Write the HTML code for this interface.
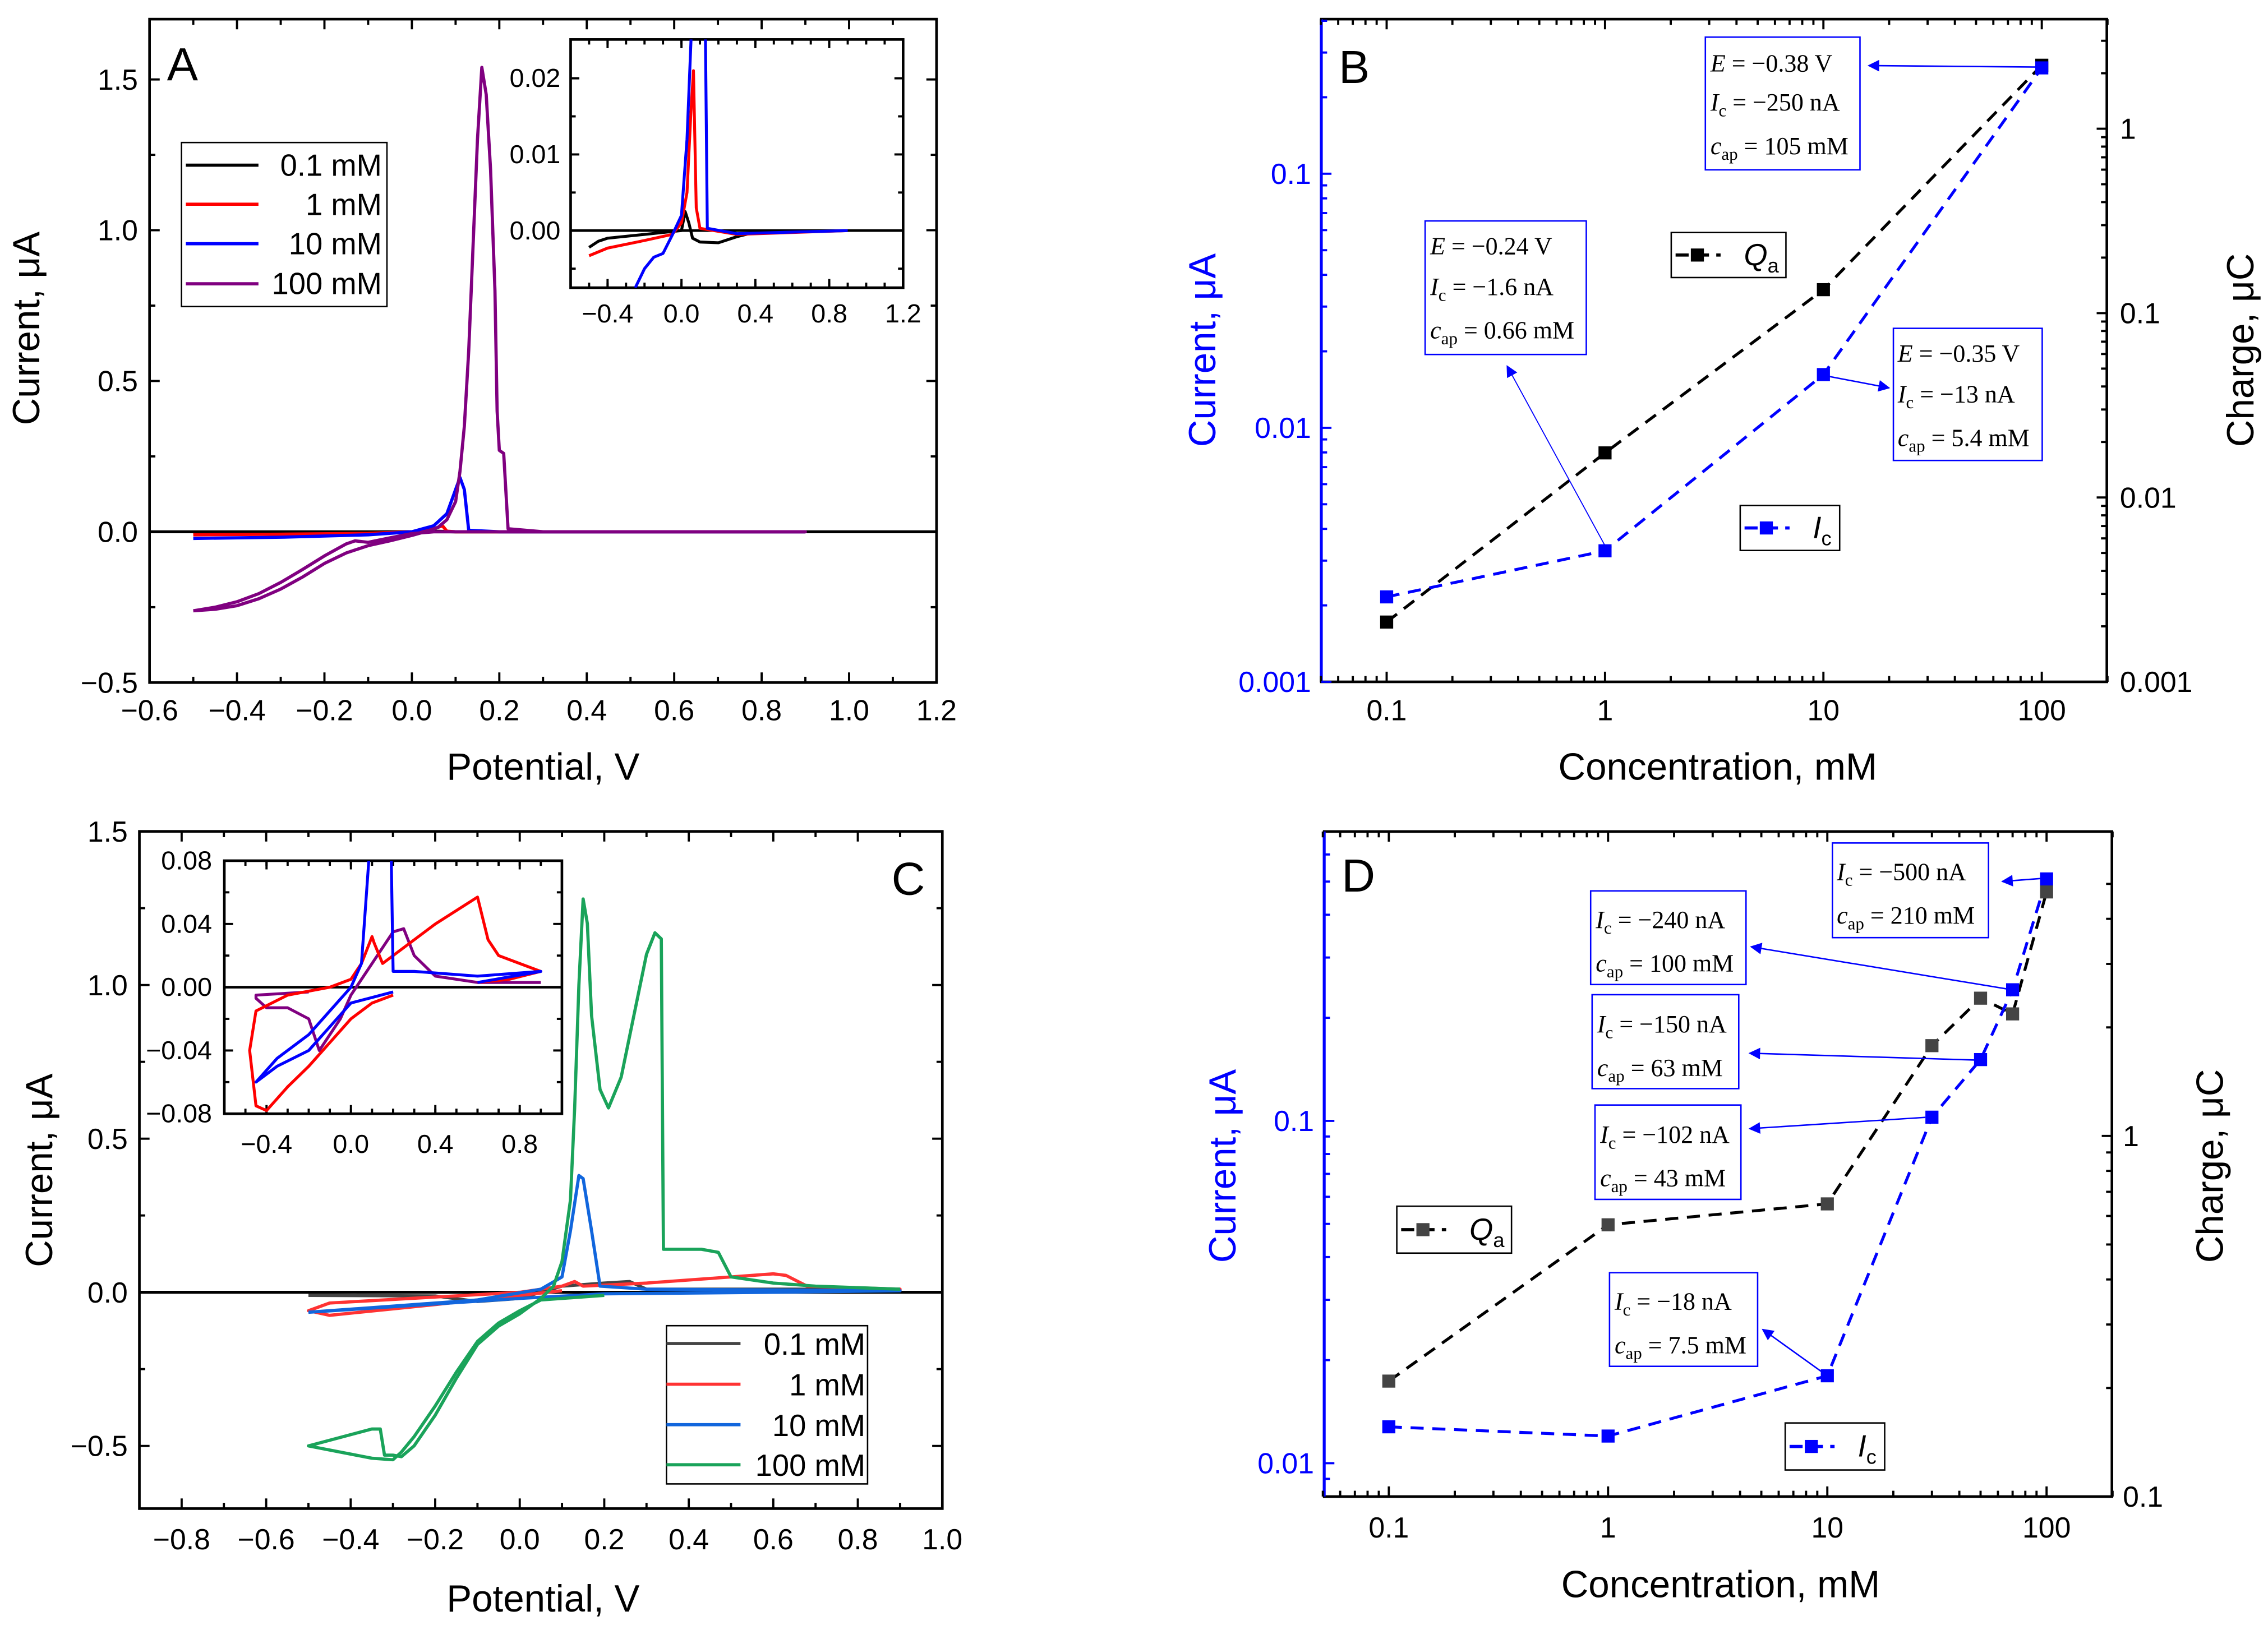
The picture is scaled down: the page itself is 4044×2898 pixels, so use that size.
<!DOCTYPE html>
<html><head><meta charset="utf-8"><style>
html,body{margin:0;padding:0;background:#fff;}
svg{display:block;}
.t{font-family:"Liberation Sans",sans-serif;}
.s{font-family:"Liberation Serif",serif;}
</style></head><body>
<svg id="fig" xmlns="http://www.w3.org/2000/svg" width="4044" height="2898" viewBox="0 0 1562 1119">
<defs>
<marker id="ah" viewBox="0 0 10 10" refX="9" refY="5" markerWidth="10" markerHeight="8" markerUnits="userSpaceOnUse" orient="auto"><path d="M0,0 L10,5 L0,10 z" fill="#0000ff"/></marker>
<clipPath id="cA"><rect x="103" y="13" width="542" height="457"/></clipPath>
<clipPath id="cAi"><rect x="393" y="27" width="229" height="171"/></clipPath>
<clipPath id="cC"><rect x="96" y="572.5" width="553" height="466.5"/></clipPath>
<clipPath id="cCi"><rect x="154.5" y="592.7" width="232.5" height="174.3"/></clipPath>
</defs>
<rect x="0" y="0" width="1562" height="1119" fill="#fff"/>
<g id="gA"></g>
<g id="gB"></g>
<g id="gC"></g>
<g id="gD"></g>
<g id="static" class="t">
<text x="115" y="55" font-size="32">A</text>
<text x="374" y="537" font-size="26" text-anchor="middle">Potential, V</text>
<text transform="translate(27,226) rotate(-90)" font-size="26" text-anchor="middle">Current, μA</text>
<rect x="125" y="98" width="141.5" height="113" fill="#fff" stroke="#000" stroke-width="1"/>
<line x1="128" y1="113.6" x2="178" y2="113.6" stroke="#000" stroke-width="2.2"/>
<line x1="128" y1="140.5" x2="178" y2="140.5" stroke="#ff0000" stroke-width="2.2"/>
<line x1="128" y1="167.7" x2="178" y2="167.7" stroke="#0000ff" stroke-width="2.2"/>
<line x1="128" y1="195.3" x2="178" y2="195.3" stroke="#800080" stroke-width="2.2"/>
<text x="263" y="121" font-size="21" text-anchor="end">0.1 mM</text>
<text x="263" y="148" font-size="21" text-anchor="end">1 mM</text>
<text x="263" y="175" font-size="21" text-anchor="end">10 mM</text>
<text x="263" y="202.5" font-size="21" text-anchor="end">100 mM</text>
<text x="614" y="616" font-size="32">C</text>
<text x="374" y="1110" font-size="26" text-anchor="middle">Potential, V</text>
<text transform="translate(36,806) rotate(-90)" font-size="26" text-anchor="middle">Current, μA</text>
<rect x="459" y="913" width="138.5" height="109" fill="#fff" stroke="#000" stroke-width="1"/>
<line x1="459" y1="925.3" x2="510" y2="925.3" stroke="#444" stroke-width="2.2"/>
<line x1="459" y1="953.3" x2="510" y2="953.3" stroke="#ff3333" stroke-width="2.2"/>
<line x1="459" y1="981.2" x2="510" y2="981.2" stroke="#1166dd" stroke-width="2.2"/>
<line x1="459" y1="1008.8" x2="510" y2="1008.8" stroke="#1aa35a" stroke-width="2.2"/>
<text x="596" y="933" font-size="21" text-anchor="end">0.1 mM</text>
<text x="596" y="961" font-size="21" text-anchor="end">1 mM</text>
<text x="596" y="989" font-size="21" text-anchor="end">10 mM</text>
<text x="596" y="1016.5" font-size="21" text-anchor="end">100 mM</text>
<text x="922" y="57" font-size="32">B</text>
<text x="1183" y="537" font-size="26" text-anchor="middle">Concentration, mM</text>
<text transform="translate(837,241) rotate(-90)" font-size="26" text-anchor="middle" fill="#0000ff">Current, μA</text>
<text transform="translate(1552,241) rotate(-90)" font-size="26" text-anchor="middle">Charge, μC</text>
<text x="924" y="614" font-size="32">D</text>
<text x="1185" y="1100" font-size="26" text-anchor="middle">Concentration, mM</text>
<text transform="translate(851,803) rotate(-90)" font-size="26" text-anchor="middle" fill="#0000ff">Current, μA</text>
<text transform="translate(1531,803) rotate(-90)" font-size="26" text-anchor="middle">Charge, μC</text>
</g>
<g id="annot" class="s" font-size="17">
<rect x="1174.5" y="25.4" width="106.5" height="91.4" fill="#fff" stroke="#0000ff" stroke-width="1"/>
<text x="1178" y="49"><tspan font-style="italic">E</tspan> = −0.38 V</text>
<text x="1178" y="76"><tspan font-style="italic">I</tspan><tspan font-size="12" dy="4">c</tspan><tspan dy="-4"> = −250 nA</tspan></text>
<text x="1178" y="106"><tspan font-style="italic">c</tspan><tspan font-size="12" dy="4">ap</tspan><tspan dy="-4"> = 105 mM</tspan></text>
<rect x="981.5" y="152" width="111" height="92" fill="#fff" stroke="#0000ff" stroke-width="1"/>
<text x="985" y="175"><tspan font-style="italic">E</tspan> = −0.24 V</text>
<text x="985" y="203"><tspan font-style="italic">I</tspan><tspan font-size="12" dy="4">c</tspan><tspan dy="-4"> = −1.6 nA</tspan></text>
<text x="985" y="233"><tspan font-style="italic">c</tspan><tspan font-size="12" dy="4">ap</tspan><tspan dy="-4"> = 0.66 mM</tspan></text>
<rect x="1304" y="226" width="102.5" height="91" fill="#fff" stroke="#0000ff" stroke-width="1"/>
<text x="1307" y="249"><tspan font-style="italic">E</tspan> = −0.35 V</text>
<text x="1307" y="277"><tspan font-style="italic">I</tspan><tspan font-size="12" dy="4">c</tspan><tspan dy="-4"> = −13 nA</tspan></text>
<text x="1307" y="307"><tspan font-style="italic">c</tspan><tspan font-size="12" dy="4">ap</tspan><tspan dy="-4"> = 5.4 mM</tspan></text>
<line x1="1403" y1="46" x2="1287" y2="45" stroke="#0000ff" stroke-width="1" marker-end="url(#ah)"/>
<line x1="1105" y1="375" x2="1038" y2="252" stroke="#0000ff" stroke-width="0.7" marker-end="url(#ah)"/>
<line x1="1259" y1="259" x2="1301" y2="267" stroke="#0000ff" stroke-width="1" marker-end="url(#ah)"/>
<rect x="1262" y="580.5" width="107.5" height="65.2" fill="#fff" stroke="#0000ff" stroke-width="1"/>
<text x="1265" y="606"><tspan font-style="italic">I</tspan><tspan font-size="12" dy="4">c</tspan><tspan dy="-4"> = −500 nA</tspan></text>
<text x="1265" y="636"><tspan font-style="italic">c</tspan><tspan font-size="12" dy="4">ap</tspan><tspan dy="-4"> = 210 mM</tspan></text>
<rect x="1095.5" y="613.5" width="107" height="64.5" fill="#fff" stroke="#0000ff" stroke-width="1"/>
<text x="1099" y="639"><tspan font-style="italic">I</tspan><tspan font-size="12" dy="4">c</tspan><tspan dy="-4"> = −240 nA</tspan></text>
<text x="1099" y="669"><tspan font-style="italic">c</tspan><tspan font-size="12" dy="4">ap</tspan><tspan dy="-4"> = 100 mM</tspan></text>
<rect x="1096.5" y="685" width="101" height="64.7" fill="#fff" stroke="#0000ff" stroke-width="1"/>
<text x="1100" y="711"><tspan font-style="italic">I</tspan><tspan font-size="12" dy="4">c</tspan><tspan dy="-4"> = −150 nA</tspan></text>
<text x="1100" y="741"><tspan font-style="italic">c</tspan><tspan font-size="12" dy="4">ap</tspan><tspan dy="-4"> = 63 mM</tspan></text>
<rect x="1098.5" y="761" width="100.5" height="65" fill="#fff" stroke="#0000ff" stroke-width="1"/>
<text x="1102" y="787"><tspan font-style="italic">I</tspan><tspan font-size="12" dy="4">c</tspan><tspan dy="-4"> = −102 nA</tspan></text>
<text x="1102" y="817"><tspan font-style="italic">c</tspan><tspan font-size="12" dy="4">ap</tspan><tspan dy="-4"> = 43 mM</tspan></text>
<rect x="1108.5" y="876.5" width="102" height="64.5" fill="#fff" stroke="#0000ff" stroke-width="1"/>
<text x="1112" y="902"><tspan font-style="italic">I</tspan><tspan font-size="12" dy="4">c</tspan><tspan dy="-4"> = −18 nA</tspan></text>
<text x="1112" y="932"><tspan font-style="italic">c</tspan><tspan font-size="12" dy="4">ap</tspan><tspan dy="-4"> = 7.5 mM</tspan></text>
<line x1="1405" y1="605" x2="1379" y2="607" stroke="#0000ff" stroke-width="1" marker-end="url(#ah)"/>
<line x1="1382" y1="681" x2="1206" y2="652" stroke="#0000ff" stroke-width="1" marker-end="url(#ah)"/>
<line x1="1360" y1="730" x2="1205" y2="725.3" stroke="#0000ff" stroke-width="1" marker-end="url(#ah)"/>
<line x1="1326" y1="769.5" x2="1205" y2="777.3" stroke="#0000ff" stroke-width="1" marker-end="url(#ah)"/>
<line x1="1255" y1="945" x2="1214" y2="915.6" stroke="#0000ff" stroke-width="1" marker-end="url(#ah)"/>
</g>
<script>
const aV01=[-0.5,-0.3,-0.1,0.0,0.05,0.1,0.3,0.9];
const aI01=[-0.003,-0.002,-0.001,0.0,0.002,0.0,0.0,0.0];
const aV1=[-0.5,-0.3,-0.1,0.0,0.05,0.07,0.08,0.1,0.3,0.9];
const aI1=[-0.01,-0.008,-0.005,0.0,0.01,0.02,0.002,0.0,0.0,0.0];
const aV10=[-0.5,-0.3,-0.1,0.0,0.05,0.08,0.1,0.11,0.12,0.13,0.2,0.9];
const aI10=[-0.022,-0.018,-0.01,0.0,0.02,0.06,0.14,0.18,0.14,0.005,0.0,0.0];
const aV100=[-0.5,-0.45,-0.4,-0.35,-0.3,-0.25,-0.2,-0.15,-0.1,-0.05,0.0,0.03,0.06,0.08,0.1,0.11,0.12,0.13,0.14,0.15,0.16,0.17,0.18,0.19,0.195,0.2,0.21,0.22,0.3,0.9,0.3,0.05,0.0,-0.05,-0.1,-0.13,-0.15,-0.2,-0.25,-0.3,-0.35,-0.4,-0.45,-0.5];
const aI100=[-0.262,-0.257,-0.245,-0.222,-0.19,-0.15,-0.105,-0.07,-0.046,-0.03,-0.012,0.0,0.015,0.04,0.1,0.2,0.35,0.6,0.95,1.3,1.54,1.45,1.2,0.8,0.4,0.27,0.26,0.01,0.0,0.0,0.0,0.0,-0.006,-0.02,-0.035,-0.03,-0.04,-0.08,-0.125,-0.168,-0.205,-0.232,-0.25,-0.262];
const aiV01=[-0.5,-0.45,-0.4,-0.2,0.0,0.02,0.04,0.06,0.1,0.2,0.3,0.4,0.9];
const aiI01=[-0.0022,-0.0014,-0.001,-0.0005,0.0,0.0025,0.001,-0.001,-0.0015,-0.0016,-0.0008,-0.0002,0.0];
const aiV1=[-0.5,-0.4,-0.2,-0.05,0.0,0.03,0.05,0.065,0.08,0.1,0.3,0.9];
const aiI1=[-0.0033,-0.0023,-0.0013,-0.0005,0.001,0.005,0.015,0.021,0.003,0.0003,-0.0005,0.0];
const aiV10=[-0.25,-0.2,-0.15,-0.1,-0.05,0.0,0.03,0.05,0.06,0.12,0.13,0.14,0.3,0.9];
const aiI10=[-0.0075,-0.005,-0.0035,-0.003,-0.0006,0.002,0.012,0.024,0.03,0.03,0.025,0.0003,-0.0004,0.0];
const cV01=[-0.5,-0.2,-0.1,0.0,0.1,0.2,0.26,0.3,0.9];
const cI01=[-0.01,-0.012,-0.03,-0.02,0.02,0.03,0.035,0.01,0.01];
const cV1=[0.1,0.0,-0.2,-0.45,-0.5,-0.45,0.0,0.1,0.13,0.15,0.3,0.6,0.63,0.68,0.9,0.6];
const cI1=[0.005,-0.01,-0.04,-0.075,-0.06,-0.035,0.0,0.02,0.035,0.02,0.03,0.06,0.055,0.02,0.01,0.003];
const cV10=[-0.5,-0.3,-0.1,0.05,0.1,0.12,0.14,0.15,0.17,0.19,0.3,0.9,0.6,0.2,0.0,-0.5];
const cI10=[-0.065,-0.045,-0.025,0.01,0.05,0.2,0.38,0.37,0.2,0.02,0.01,0.005,0.0,-0.005,-0.02,-0.065];
const cV100=[0.2,0.05,0.0,-0.05,-0.1,-0.15,-0.2,-0.25,-0.28,-0.3,-0.35,-0.5,-0.35,-0.33,-0.32,-0.3,-0.28,-0.25,-0.2,-0.15,-0.1,-0.05,0.0,0.05,0.08,0.1,0.12,0.13,0.14,0.15,0.16,0.17,0.19,0.21,0.24,0.27,0.3,0.32,0.335,0.34,0.43,0.47,0.5,0.6,0.7,0.9];
const cI100=[-0.01,-0.025,-0.06,-0.1,-0.16,-0.26,-0.37,-0.47,-0.52,-0.545,-0.54,-0.5,-0.445,-0.445,-0.53,-0.53,-0.535,-0.5,-0.4,-0.28,-0.17,-0.11,-0.07,-0.02,0.02,0.1,0.3,0.6,1.0,1.28,1.2,0.9,0.66,0.6,0.7,0.9,1.1,1.17,1.15,0.14,0.14,0.13,0.05,0.03,0.02,0.01];
const ciV1=[0.2,0.1,0.0,-0.1,-0.2,-0.3,-0.4,-0.45,-0.48,-0.45,-0.3,-0.1,0.0,0.05,0.1,0.11,0.15,0.2,0.4,0.6,0.65,0.7,0.8,0.9,0.75,0.6];
const ciI1=[-0.005,-0.01,-0.02,-0.035,-0.05,-0.063,-0.078,-0.075,-0.04,-0.015,-0.005,0.0,0.005,0.015,0.032,0.028,0.015,0.02,0.04,0.057,0.03,0.02,0.015,0.01,0.005,0.003];
const ciV10=[0.2,0.0,-0.1,-0.2,-0.35,-0.45,-0.35,-0.2,-0.1,0.0,0.05,0.09,0.19,0.2,0.3,0.6,0.9,0.6];
const ciI10=[-0.003,-0.01,-0.025,-0.04,-0.05,-0.06,-0.045,-0.03,-0.015,0.0,0.015,0.09,0.09,0.01,0.01,0.007,0.01,0.003];
const ciV100=[-0.2,-0.45,-0.45,-0.4,-0.3,-0.2,-0.15,-0.1,-0.05,0.0,0.1,0.2,0.25,0.3,0.4,0.6,0.9];
const ciI100=[-0.003,-0.005,-0.007,-0.013,-0.013,-0.02,-0.04,-0.03,-0.02,-0.005,0.015,0.035,0.037,0.02,0.007,0.003,0.003];
const bConc=[0.1,1,10,100];
const bQa=[0.00211,0.01745,0.134,2.21];
const bIc=[0.00216,0.00328,0.0162,0.261];
const dConc=[0.1,1,10,30,50,70,100];
const dQa=[0.209,0.567,0.648,1.78,2.41,2.18,4.75];
const dIc=[0.01277,0.0120,0.0180,0.1025,0.151,0.2415,0.509];
const aXTicks=[-0.6,-0.4,-0.2,0.0,0.2,0.4,0.6,0.8,1.0,1.2];
const aYTicks=[-0.5,0.0,0.5,1.0,1.5];
const aiXTicks=[-0.4,0.0,0.4,0.8,1.2];
const aiYTicks=[0.0,0.01,0.02];
const cXTicks=[-0.8,-0.6,-0.4,-0.2,0.0,0.2,0.4,0.6,0.8,1.0];
const cYTicks=[-0.5,0.0,0.5,1.0,1.5];
const ciXTicks=[-0.4,0.0,0.4,0.8];
const ciYTicks=[-0.08,-0.04,0.0,0.04,0.08];
const logXTicks=[0.1,1,10,100];
const logXLabels=['0.1','1','10','100'];
const bLeftTicks=[0.001,0.01,0.1];
const bLeftLabels=['0.001','0.01','0.1'];
const bRightTicks=[0.001,0.01,0.1,1];
const bRightLabels=['0.001','0.01','0.1','1'];
const dLeftTicks=[0.01,0.1];
const dLeftLabels=['0.01','0.1'];
const dRightTicks=[0.1,1];
const dRightLabels=['0.1','1'];

const NS='http://www.w3.org/2000/svg';
function mk(tag,parent,name){const e=document.createElementNS(NS,tag);


parent.appendChild(e);return e;}
function lin(d0,d1,p0,p1){return v=>p0+(v-d0)*(p1-p0)/(d1-d0);}
function lg(d0,p0,ppd){return v=>p0+(Math.log10(v)-Math.log10(d0))*ppd;}
function fmt(v,d){let s=v.toFixed(d);if(v<0)s='\u2212'+s.slice(1);return s;}
function ln(p,x1,y1,x2,y2,c,w,name){const e=mk('line',p,name);e.setAttribute('x1',x1);e.setAttribute('y1',y1);e.setAttribute('x2',x2);e.setAttribute('y2',y2);e.setAttribute('stroke',c);e.setAttribute('stroke-width',w);return e;}
function tx(p,x,y,s,size,anchor,c,name){const e=mk('text',p,name);e.setAttribute('x',x);e.setAttribute('y',y);e.setAttribute('font-size',size);e.setAttribute('text-anchor',anchor);e.setAttribute('fill',c);e.setAttribute('class','t');e.textContent=s;return e;}
function curve(p,xs,ys,fx,fy,c,w,clip,name,dash){const e=mk('polyline',p,name);e.setAttribute('points',xs.map((v,i)=>fx(v).toFixed(2)+','+fy(ys[i]).toFixed(2)).join(' '));e.setAttribute('fill','none');e.setAttribute('stroke',c);e.setAttribute('stroke-width',w);e.setAttribute('stroke-linejoin','round');if(clip)e.setAttribute('clip-path','url(#'+clip+')');if(dash)e.setAttribute('stroke-dasharray',dash);return e;}
function squares(p,xs,ys,fx,fy,c,sz,name){xs.forEach((v,i)=>{const r=mk('rect',p,name+'-'+i);r.setAttribute('x',fx(v)-sz/2);r.setAttribute('y',fy(ys[i])-sz/2);r.setAttribute('width',sz);r.setAttribute('height',sz);r.setAttribute('fill',c);});}
function frame(p,x0,y0,x1,y1,leftColor,name){const r=mk('rect',p,name);r.setAttribute('x',x0);r.setAttribute('y',y0);r.setAttribute('width',x1-x0);r.setAttribute('height',y1-y0);r.setAttribute('fill','none');r.setAttribute('stroke','#000');r.setAttribute('stroke-width',1.8);if(leftColor)ln(p,x0,y0,x0,y1,leftColor,2,name+'-left-spine');}
function xt(p,fx,vals,y0,y1,len,name){vals.forEach(v=>{const x=fx(v);ln(p,x,y1,x,y1-len,'#000',1.5,name);ln(p,x,y0,x,y0+len,'#000',1.5,name);});}
function yt(p,fy,vals,x0,x1,len,cl,name){vals.forEach(v=>{const y=fy(v);ln(p,x0,y,x0+len,y,cl,1.5,name);ln(p,x1,y,x1-len,y,'#000',1.5,name);});}
function range(a,b,s){const r=[];for(let v=a;v<=b+1e-9;v+=s)r.push(+v.toFixed(6));return r;}
function logMinor(lo,hi){const r=[];for(let e=-4;e<=3;e++)for(let m=2;m<=9;m++){const v=m*Math.pow(10,e);if(v>=lo&&v<=hi)r.push(v);}return r;}

(function(){const g=document.getElementById('gA');
const fx=lin(-0.6,1.2,103,645),fy=lin(-0.5,1.7,470,13);
frame(g,103,13,645,470,null,'a-frame');
xt(g,fx,range(-0.6,1.2,0.2),13,470,7,'a-x-major-tick');
xt(g,fx,range(-0.5,1.1,0.2),13,470,4,'a-x-minor-tick');
yt(g,fy,range(-0.5,1.5,0.5),103,645,7,'#000','a-y-major-tick');
yt(g,fy,range(-0.25,1.5,0.5),103,645,4,'#000','a-y-minor-tick');
aXTicks.forEach(v=>tx(g,fx(v),496,fmt(v,1),20,'middle','#000','a-x-label'));
aYTicks.forEach(v=>tx(g,95,fy(v)+7,fmt(v,1),20,'end','#000','a-y-label'));
ln(g,103,fy(0),645,fy(0),'#000',2,'a-zero-line');
curve(g,aV01,aI01,fx,fy,'#000',2.2,'cA','a-curve-0.1mM');
curve(g,aV1,aI1,fx,fy,'#ff0000',2.2,'cA','a-curve-1mM');
curve(g,aV10,aI10,fx,fy,'#0000ff',2.2,'cA','a-curve-10mM');
curve(g,aV100,aI100,fx,fy,'#800080',2.2,'cA','a-curve-100mM');
const ix=lin(-0.6,1.2,393,622),iy=lin(-0.0075,0.0251,198,27);
const bg=mk('rect',g,'a-inset-bg');bg.setAttribute('x',393);bg.setAttribute('y',27);bg.setAttribute('width',229);bg.setAttribute('height',171);bg.setAttribute('fill','#fff');
frame(g,393,27,622,198,null,'a-inset-frame');
xt(g,ix,range(-0.4,1.2,0.4),27,198,6,'a-inset-x-major-tick');
xt(g,ix,range(-0.5,1.1,0.1),27,198,3.5,'a-inset-x-minor-tick');
yt(g,iy,range(0,0.02,0.01),393,622,6,'#000','a-inset-y-major-tick');
yt(g,iy,[-0.005,0.005,0.015],393,622,3.5,'#000','a-inset-y-minor-tick');
aiXTicks.forEach(v=>tx(g,ix(v),222,fmt(v,1),18,'middle','#000','a-inset-x-label'));
aiYTicks.forEach(v=>tx(g,386,iy(v)+6,fmt(v,2),18,'end','#000','a-inset-y-label'));
ln(g,393,iy(0),622,iy(0),'#000',1.8,'a-inset-zero-line');
curve(g,aiV01,aiI01,ix,iy,'#000',2,'cAi','a-inset-curve-0.1mM');
curve(g,aiV1,aiI1,ix,iy,'#ff0000',2,'cAi','a-inset-curve-1mM');
curve(g,aiV10,aiI10,ix,iy,'#0000ff',2,'cAi','a-inset-curve-10mM');
})();

(function(){const g=document.getElementById('gC');
const fx=lin(-0.9,1.0,96,649),fy=lin(-0.704,1.5,1039,572.5);
frame(g,96,572.5,649,1039,null,'c-frame');
xt(g,fx,range(-0.8,1.0,0.2),572.5,1039,7,'c-x-major-tick');
xt(g,fx,range(-0.9,0.9,0.2),572.5,1039,4,'c-x-minor-tick');
yt(g,fy,range(-0.5,1.5,0.5),96,649,7,'#000','c-y-major-tick');
yt(g,fy,range(-0.25,1.25,0.5),96,649,4,'#000','c-y-minor-tick');
cXTicks.forEach(v=>tx(g,fx(v),1067,fmt(v,1),20,'middle','#000','c-x-label'));
cYTicks.forEach(v=>tx(g,88,fy(v)+7,fmt(v,1),20,'end','#000','c-y-label'));
ln(g,96,fy(0),649,fy(0),'#000',2,'c-zero-line');
curve(g,cV01,cI01,fx,fy,'#444',2.2,'cC','c-curve-0.1mM');
curve(g,cV1,cI1,fx,fy,'#ff3333',2.2,'cC','c-curve-1mM');
curve(g,cV10,cI10,fx,fy,'#1166dd',2.2,'cC','c-curve-10mM');
curve(g,cV100,cI100,fx,fy,'#1aa35a',2.2,'cC','c-curve-100mM');
const ix=lin(-0.6,1.0,154.5,387),iy=lin(-0.08,0.08,767,592.7);
const bg=mk('rect',g,'c-inset-bg');bg.setAttribute('x',154.5);bg.setAttribute('y',592.7);bg.setAttribute('width',232.5);bg.setAttribute('height',174.3);bg.setAttribute('fill','#fff');
frame(g,154.5,592.7,387,767,null,'c-inset-frame');
xt(g,ix,range(-0.4,0.8,0.4),592.7,767,6,'c-inset-x-major-tick');
xt(g,ix,range(-0.5,0.9,0.1),592.7,767,3.5,'c-inset-x-minor-tick');
yt(g,iy,range(-0.08,0.08,0.04),154.5,387,6,'#000','c-inset-y-major-tick');
yt(g,iy,[-0.06,-0.02,0.02,0.06],154.5,387,3.5,'#000','c-inset-y-minor-tick');
ciXTicks.forEach(v=>tx(g,ix(v),794,fmt(v,1),18,'middle','#000','c-inset-x-label'));
ciYTicks.forEach(v=>tx(g,146,iy(v)+6,fmt(v,2),18,'end','#000','c-inset-y-label'));
ln(g,154.5,iy(0),387,iy(0),'#000',1.8,'c-inset-zero-line');
curve(g,ciV100,ciI100,ix,iy,'#800080',2,'cCi','c-inset-curve-100mM');
curve(g,ciV1,ciI1,ix,iy,'#ff0000',2,'cCi','c-inset-curve-1mM');
curve(g,ciV10,ciI10,ix,iy,'#0000ff',2,'cCi','c-inset-curve-10mM');
})();

function logPanel(g,pfx,X0,Y0,X1,Y1,fx,fl,fr,xlo,xhi,llo,lhi,rlo,rhi,lT,lL,rT,rL,labY,lX,rX,conc,qa,ic,qc){
frame(g,X0,Y0,X1,Y1,'#0000ff',pfx+'-frame');
xt(g,fx,logXTicks,Y0,Y1,7,pfx+'-x-major-tick');
xt(g,fx,logMinor(xlo,xhi),Y0,Y1,4,pfx+'-x-minor-tick');
lT.forEach(v=>{const y=fl(v);ln(g,X0,y,X0+7,y,'#0000ff',1.5,pfx+'-left-major-tick');});
logMinor(llo,lhi).forEach(v=>{const y=fl(v);ln(g,X0,y,X0+4,y,'#0000ff',1.5,pfx+'-left-minor-tick');});
rT.forEach(v=>{const y=fr(v);ln(g,X1,y,X1-7,y,'#000',1.5,pfx+'-right-major-tick');});
logMinor(rlo,rhi).forEach(v=>{const y=fr(v);ln(g,X1,y,X1-4,y,'#000',1.5,pfx+'-right-minor-tick');});
logXTicks.forEach((v,i)=>tx(g,fx(v),labY,logXLabels[i],20,'middle','#000',pfx+'-x-label'));
lT.forEach((v,i)=>tx(g,lX,fl(v)+7,lL[i],20,'end','#0000ff',pfx+'-left-label'));
rT.forEach((v,i)=>tx(g,rX,fr(v)+7,rL[i],20,'start','#000',pfx+'-right-label'));
curve(g,conc,qa,fx,fr,'#000',2,null,pfx+'-qa-line','9 6');
curve(g,conc,ic,fx,fl,'#0000ff',2,null,pfx+'-ic-line','9 6');
squares(g,conc,qa,fx,fr,qc,9,pfx+'-qa-point');
squares(g,conc,ic,fx,fl,'#0000ff',9,pfx+'-ic-point');
}
(function(){const g=document.getElementById('gB');
const fx=lg(0.1,955,150.4),fl=lg(0.001,469.5,-175),fr=lg(0.001,469.5,-127);
logPanel(g,'b',910,13,1451,469.5,fx,fl,fr,0.05,200,0.001,0.4,0.001,3.9,bLeftTicks,bLeftLabels,bRightTicks,bRightLabels,496,903,1460,bConc,bQa,bIc,'#000');
})();
(function(){const g=document.getElementById('gD');
const fx=lg(0.1,956.5,151),fl=lg(0.01,1007.7,-235.8),fr=lg(0.1,1030.7,-248.4);
logPanel(g,'d',912,572.6,1454.5,1030.7,fx,fl,fr,0.05,200,0.0086,0.7,0.1,5.7,dLeftTicks,dLeftLabels,dRightTicks,dRightLabels,1059,905,1462,dConc,dQa,dIc,'#444');
})();

(function(){const g=document.getElementById('static');
function leg(pfx,x0,y0,x1,y1,c,mc,sym,sub){
const r=mk('rect',g,pfx+'-legend');r.setAttribute('x',x0);r.setAttribute('y',y0);r.setAttribute('width',x1-x0);r.setAttribute('height',y1-y0);r.setAttribute('fill','#fff');r.setAttribute('stroke','#000');r.setAttribute('stroke-width',1);
const cy=(y0+y1)/2;
const l=ln(g,x0+3,cy,x0+34,cy,c,2.2,pfx+'-legend-line');l.setAttribute('stroke-dasharray','9 5');
const s=mk('rect',g,pfx+'-legend-marker');s.setAttribute('x',x0+13.5);s.setAttribute('y',cy-4.5);s.setAttribute('width',9);s.setAttribute('height',9);s.setAttribute('fill',mc);
const t=mk('text',g,pfx+'-legend-label');t.setAttribute('x',x0+50);t.setAttribute('y',cy+7);t.setAttribute('font-size',21);
const a=document.createElementNS(NS,'tspan');a.setAttribute('font-style','italic');a.textContent=sym;t.appendChild(a);
const b=document.createElementNS(NS,'tspan');b.setAttribute('font-size',14);b.setAttribute('dy',5);b.textContent=sub;t.appendChild(b);}
leg('b-qa',1151,160,1230,191,'#000','#000','Q','a');
leg('b-ic',1198.5,348,1267,379,'#0000ff','#0000ff','I','c');
leg('d-qa',962,830.7,1041,863,'#000','#444','Q','a');
leg('d-ic',1229.5,980,1298,1012.4,'#0000ff','#0000ff','I','c');
})();
</script>
</svg>
</body></html>
